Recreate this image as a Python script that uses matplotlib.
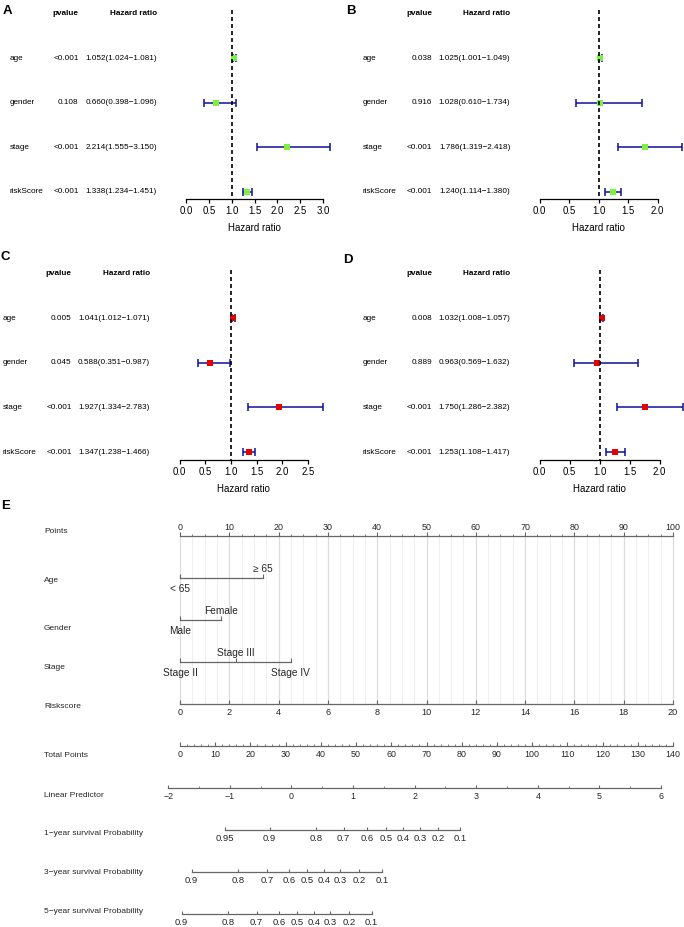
import matplotlib
matplotlib.use('Agg')
import matplotlib.pyplot as plt
import matplotlib.transforms as mtransforms
import numpy as np

plt.rcParams['font.family'] = ['Liberation Sans', 'DejaVu Sans']

# ---------------- forest plot data ----------------
variables = ['age', 'gender', 'stage', 'riskScore']

a_pvals = ['<0.001', '0.108', '<0.001', '<0.001']
a_hr = [1.052, 0.660, 2.214, 1.338]
a_lo = [1.024, 0.398, 1.555, 1.234]
a_hi = [1.081, 1.096, 3.150, 1.451]
a_ticks = [0.0, 0.5, 1.0, 1.5, 2.0, 2.5, 3.0]

b_pvals = ['0.038', '0.916', '<0.001', '<0.001']
b_hr = [1.025, 1.028, 1.786, 1.240]
b_lo = [1.001, 0.610, 1.319, 1.114]
b_hi = [1.049, 1.734, 2.418, 1.380]
b_ticks = [0.0, 0.5, 1.0, 1.5, 2.0]

c_pvals = ['0.005', '0.045', '<0.001', '<0.001']
c_hr = [1.041, 0.588, 1.927, 1.347]
c_lo = [1.012, 0.351, 1.334, 1.238]
c_hi = [1.071, 0.987, 2.783, 1.466]
c_ticks = [0.0, 0.5, 1.0, 1.5, 2.0, 2.5]

d_pvals = ['0.008', '0.889', '<0.001', '<0.001']
d_hr = [1.032, 0.963, 1.750, 1.253]
d_lo = [1.008, 0.569, 1.286, 1.108]
d_hi = [1.057, 1.632, 2.382, 1.417]
d_ticks = [0.0, 0.5, 1.0, 1.5, 2.0]

# ---------------- nomogram data ----------------
row_names = ['Points', 'Age', 'Gender', 'Stage', 'Riskscore', 'Total Points',
             'Linear Predictor', '1\u2212year survival Probability',
             '3\u2212year survival Probability', '5\u2212year survival Probability']
points_ticks = [0, 10, 20, 30, 40, 50, 60, 70, 80, 90, 100]
age_levels = ['< 65', '\u2265 65']
age_pts = [0, 16.8]
gender_levels = ['Male', 'Female']
gender_pts = [0, 8.26]
stage_levels = ['Stage II', 'Stage III', 'Stage IV']
stage_pts = [0, 11.3, 22.45]
risk_ticks = [0, 2, 4, 6, 8, 10, 12, 14, 16, 18, 20]
risk_max = 20          # riskscore 20 = 100 points
total_ticks = [0, 10, 20, 30, 40, 50, 60, 70, 80, 90, 100, 110, 120, 130, 140]
total_max = 140        # 140 total points = right end of scale
lp_ticks = [-2, -1, 0, 1, 2, 3, 4, 5, 6]
lp_ends_pts = (-2.37, 97.57)   # where lp -2 and lp 6 sit on the points scale
surv1_labels = ['0.95', '0.9', '0.8', '0.7', '0.6', '0.5', '0.4', '0.3', '0.2', '0.1']
surv1_pts = [9.2, 18.2, 27.6, 33.2, 37.9, 41.8, 45.2, 48.7, 52.3, 56.85]
surv3_labels = ['0.9', '0.8', '0.7', '0.6', '0.5', '0.4', '0.3', '0.2', '0.1']
surv3_pts = [2.37, 11.72, 17.6, 22.06, 25.8, 29.2, 32.5, 36.4, 40.95]
surv5_labels = ['0.9', '0.8', '0.7', '0.6', '0.5', '0.4', '0.3', '0.2', '0.1']
surv5_pts = [0.34, 9.7, 15.56, 20.03, 23.8, 27.2, 30.4, 34.37, 38.85]

W, H = 684, 927
fig = plt.figure(figsize=(W / 100, H / 100), dpi=100)

BLUE = '#10109A'
GREEN = '#80F040'
RED = '#E60000'


def forest(lay, pvals, hr, lo, hi, ticks, color, letter):
    x0, x1, top, axis_y = lay['box']
    zero, unit = lay['zero'], lay['unit']
    row0, sp = lay['row0'], lay['sp']
    ax = fig.add_axes([x0 / W, 1 - axis_y / H, (x1 - x0) / W, (axis_y - top) / H])
    ax.patch.set_visible(False)
    ax.set_xlim((x0 - zero) / unit, (x1 - zero) / unit)
    ybot = (axis_y - row0) / sp
    ax.set_ylim(ybot, (top - row0) / sp)
    for s in ['top', 'right', 'left']:
        ax.spines[s].set_visible(False)
    ax.spines['bottom'].set_bounds(ticks[0], ticks[-1])
    ax.spines['bottom'].set_linewidth(0.9)
    ax.set_yticks([])
    ax.set_xticks(ticks)
    ax.set_xticklabels(['%.1f' % t for t in ticks], fontsize=6.9)
    ax.tick_params(axis='x', length=3.2, width=0.9, pad=2)
    ax.annotate('Hazard ratio', xy=((ticks[0] + ticks[-1]) / 2, 0),
                xycoords=('data', 'axes fraction'), xytext=(0, -21),
                textcoords='offset points', ha='center', va='center', fontsize=7.0)

    y = np.arange(len(hr))
    ax.errorbar(hr, y, xerr=[np.array(hr) - np.array(lo), np.array(hi) - np.array(hr)],
                fmt='none', ecolor=BLUE, elinewidth=1.1, capsize=2.9, capthick=1.1,
                clip_on=False, zorder=2)
    ax.plot(hr, y, 's', color=color, markersize=4.6, markeredgewidth=0,
            clip_on=False, zorder=3)
    ax.plot([1, 1], [-1.08, ybot], color='black', lw=1.2, dashes=(2.4, 1.8),
            clip_on=False, zorder=4)

    tr = mtransforms.blended_transform_factory(fig.transFigure, ax.transData)
    ax.text(lay['p_right'] / W, -1, 'pvalue', transform=tr, ha='right', va='center',
            fontsize=5.9, fontweight='bold')
    ax.text(lay['hr_right'] / W, -1, 'Hazard ratio', transform=tr, ha='right',
            va='center', fontsize=5.9, fontweight='bold')
    for i, v in enumerate(variables):
        ax.text(lay['label_x'] / W, i, v, transform=tr, ha='left', va='center', fontsize=5.9)
        ax.text(lay['p_right'] / W, i, pvals[i], transform=tr, ha='right', va='center',
                fontsize=5.9)
        ax.text(lay['hr_right'] / W, i,
                '%.3f(%.3f\u2212%.3f)' % (hr[i], lo[i], hi[i]), transform=tr,
                ha='right', va='center', fontsize=5.9)
    lx, ly = lay['letter']
    fig.text(lx / W, 1 - ly / H, letter, fontsize=9.5, fontweight='bold',
             ha='left', va='center')


lay_a = dict(box=(0, 342, 0, 198.5), zero=186.3, unit=45.57, row0=58.3, sp=44.5,
             label_x=10, p_right=78.7, hr_right=157, letter=(2.5, 10.5))
lay_b = dict(box=(342, 684, 0, 198.5), zero=539.7, unit=59.0, row0=58.3, sp=44.5,
             label_x=362.7, p_right=432, hr_right=510.3, letter=(346.5, 10.5))
lay_c = dict(box=(0, 342, 262, 460), zero=179.7, unit=51.32, row0=318, sp=44.7,
             label_x=2.7, p_right=71.7, hr_right=150, letter=(0.5, 257))
lay_d = dict(box=(342, 684, 262, 459.5), zero=539.7, unit=60.0, row0=318, sp=44.7,
             label_x=362.7, p_right=432, hr_right=510, letter=(343.5, 260))

forest(lay_a, a_pvals, a_hr, a_lo, a_hi, a_ticks, GREEN, 'A')
forest(lay_b, b_pvals, b_hr, b_lo, b_hi, b_ticks, GREEN, 'B')
forest(lay_c, c_pvals, c_hr, c_lo, c_hi, c_ticks, RED, 'C')
forest(lay_d, d_pvals, d_hr, d_lo, d_hi, d_ticks, RED, 'D')

# ---------------- nomogram ----------------
left_px, right_px = 180, 673          # points 0 and 100
ppx = (right_px - left_px) / 100.0
row0_px, row_sp = 535.7, 42.07
top_px, bot_px = 495, 927
ax = fig.add_axes([0, 1 - bot_px / H, 1, (bot_px - top_px) / H])
ax.patch.set_visible(False)
ax.set_xlim(-left_px / ppx, (W - left_px) / ppx)
ax.set_ylim((bot_px - row0_px) / row_sp, (top_px - row0_px) / row_sp)
ax.axis('off')

LINE = '#666666'
TXT = '#262626'
tick_major = 0.085
tick_minor = 0.05

# grid
grid = np.arange(0, 100.01, 2.5)
ax.vlines([g for g in grid if g % 10 != 0], 0, 4, color='#EFEFEF', lw=0.7, zorder=0)
ax.vlines([g for g in grid if g % 10 == 0], 0, 4, color='#DCDCDC', lw=0.9, zorder=0)

label_y = [-0.11, 1.06, 2.21, 3.14, 4.06, 5.22, 6.18, 7.07, 8.01, 8.93]
for name, yy in zip(row_names, label_y):
    ax.text(44 / ppx - left_px / ppx, yy, name, ha='left', va='center',
            fontsize=6.0, color=TXT)


def scale_row(row, pos, labels, minor=None, above=False, fs=6.4):
    ax.plot([pos[0], pos[-1]], [row, row], color=LINE, lw=0.9)
    ax.vlines(pos, row - tick_major, row, color=LINE, lw=0.8)
    if minor is not None:
        ax.vlines(minor, row - tick_minor, row, color=LINE, lw=0.6)
    off = -0.19 if above else 0.2
    for p, lab in zip(pos, labels):
        ax.text(p, row + off, lab, ha='center', va='center', fontsize=fs, color=TXT)


def cat_row(row, pos, levels, sides):
    ax.plot([pos[0], pos[-1]], [row, row], color=LINE, lw=0.9)
    ax.vlines(pos, row - tick_major, row, color=LINE, lw=0.8)
    for p, lab, s in zip(pos, levels, sides):
        off = -0.22 if s == 'above' else 0.26
        ax.text(p, row + off, lab, ha='center', va='center', fontsize=7.3, color=TXT)


# Points
scale_row(0, points_ticks, [str(t) for t in points_ticks],
          minor=np.arange(0, 100.01, 2.5), above=True)
cat_row(1, age_pts, age_levels, ['below', 'above'])
cat_row(2, gender_pts, gender_levels, ['below', 'above'])
cat_row(3, stage_pts, stage_levels, ['below', 'above', 'below'])
scale_row(4, [r * 100 / risk_max for r in risk_ticks], [str(r) for r in risk_ticks], fs=6.6)
scale_row(5, [t * 100 / total_max for t in total_ticks], [str(t) for t in total_ticks],
          minor=[m * 100 / total_max for m in np.arange(0, 140.01, 2)])
lp_unit = (lp_ends_pts[1] - lp_ends_pts[0]) / (lp_ticks[-1] - lp_ticks[0])
lp_pos = [lp_ends_pts[0] + (v - lp_ticks[0]) * lp_unit for v in lp_ticks]
lp_minor = [lp_ends_pts[0] + (v - lp_ticks[0]) * lp_unit for v in np.arange(-2, 6.01, 0.5)]
scale_row(6, lp_pos, [str(v).replace('-', '\u2212') for v in lp_ticks], minor=lp_minor)
scale_row(7, surv1_pts, surv1_labels, fs=6.8)
scale_row(8, surv3_pts, surv3_labels, fs=6.8)
scale_row(9, surv5_pts, surv5_labels, fs=6.8)

fig.text(1 / W, 1 - 506 / H, 'E', fontsize=9.5, fontweight='bold', ha='left', va='center')

fig.savefig('out.png', dpi=100)
